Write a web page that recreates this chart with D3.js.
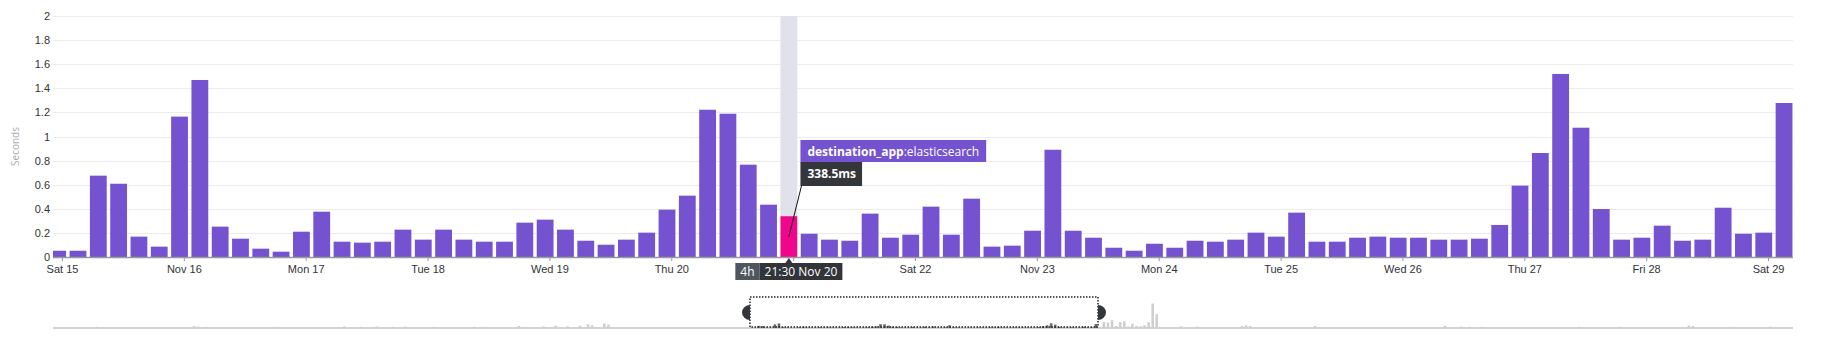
<!DOCTYPE html>
<html>
<head>
<meta charset="utf-8">
<script src="https://cdn.jsdelivr.net/npm/d3@7"></script>
<style>
  html, body { margin: 0; padding: 0; background: #fff; }
  svg { display: block; font-family: "Open Sans", "Noto Sans", sans-serif; }
</style>
</head>
<body>
<svg id="chart" width="1822" height="343"></svg>
<script>
// Average latency (seconds) per 4-hour bucket, destination_app:elasticsearch
const firstBucket = "2014-11-14T21:30";
const bucketHours = 4;
const latency = [
  0.052, 0.052, 0.675, 0.608, 0.169, 0.086,
  1.165, 1.469, 0.252, 0.152, 0.069, 0.044,
  0.210, 0.376, 0.127, 0.119, 0.127, 0.227,
  0.144, 0.227, 0.144, 0.127, 0.127, 0.285,
  0.310, 0.227, 0.135, 0.102, 0.144, 0.202,
  0.393, 0.509, 1.222, 1.189, 0.766, 0.434,
  0.3385, 0.193, 0.144, 0.135, 0.360, 0.160,
  0.185, 0.418, 0.185, 0.484, 0.086, 0.094,
  0.218, 0.890, 0.218, 0.160, 0.077, 0.052,
  0.110, 0.077, 0.135, 0.127, 0.144, 0.202,
  0.169, 0.368, 0.127, 0.127, 0.160, 0.169,
  0.160, 0.160, 0.144, 0.144, 0.152, 0.266,
  0.592, 0.863, 1.519, 1.073, 0.398, 0.144,
  0.160, 0.260, 0.135, 0.144, 0.409, 0.193,
  0.202, 1.278
];

// Hovered bucket and its tooltip
const hoverBucket = "2014-11-20T21:30";
const hoverValueLabel = "338.5ms";
const hoverTimeLabel = "21:30 Nov 20";
const rollupLabel = "4h";
const tagKey = "destination_app";
const tagValue = "elasticsearch";

// Axes
const yTicks = [0, 0.2, 0.4, 0.6, 0.8, 1, 1.2, 1.4, 1.6, 1.8, 2];
const yTickLabels = ["0", "0.2", "0.4", "0.6", "0.8", "1", "1.2", "1.4", "1.6", "1.8", "2"];
const yTitle = "Seconds";
const dayTicks = ["2014-11-15", "2014-11-16", "2014-11-17", "2014-11-18", "2014-11-19",
  "2014-11-20", "2014-11-21", "2014-11-22", "2014-11-23", "2014-11-24", "2014-11-25",
  "2014-11-26", "2014-11-27", "2014-11-28", "2014-11-29"];
const dayTickLabels = ["Sat 15", "Nov 16", "Mon 17", "Tue 18", "Wed 19", "Thu 20", "Fri 21",
  "Sat 22", "Nov 23", "Mon 24", "Tue 25", "Wed 26", "Thu 27", "Fri 28", "Sat 29"];

// Visible window and the overview (navigator) range
const viewDomain = ["2014-11-14T22:14", "2014-11-29T04:55"];
const overviewDomain = ["2014-10-17T07:53", "2014-12-27T17:18"];

// Overview buckets outside the visible window (seconds); unlisted buckets are empty
const overviewEarlier = [
  ["2014-10-19T01:30", 0.40], ["2014-10-19T09:30", 0.30], ["2014-10-23T01:30", 0.60],
  ["2014-10-23T05:30", 0.45], ["2014-10-23T13:30", 0.35], ["2014-10-23T21:30", 0.30],
  ["2014-10-26T09:30", 0.35], ["2014-10-26T13:30", 0.30], ["2014-10-29T05:30", 0.50],
  ["2014-10-29T21:30", 0.40], ["2014-10-30T13:30", 0.50], ["2014-10-31T05:30", 0.40],
  ["2014-10-31T17:30", 0.45], ["2014-11-01T21:30", 0.35], ["2014-11-02T05:30", 0.30],
  ["2014-11-03T13:30", 0.40], ["2014-11-03T21:30", 0.35], ["2014-11-05T09:30", 0.65],
  ["2014-11-06T09:30", 0.50], ["2014-11-06T21:30", 0.70], ["2014-11-07T09:30", 0.55],
  ["2014-11-07T21:30", 0.80], ["2014-11-08T05:30", 1.20], ["2014-11-08T09:30", 0.90],
  ["2014-11-08T21:30", 1.50], ["2014-11-09T01:30", 1.10], ["2014-11-11T13:30", 0.30],
  ["2014-11-13T05:30", 0.30]
];
const overviewLater = [
  ["2014-11-29T09:30", 1.95], ["2014-11-29T13:30", 1.73], ["2014-11-29T17:30", 2.50],
  ["2014-11-29T21:30", 0.65], ["2014-11-30T01:30", 1.95], ["2014-11-30T05:30", 2.18],
  ["2014-11-30T09:30", 0.50], ["2014-11-30T13:30", 1.40], ["2014-11-30T17:30", 0.65],
  ["2014-11-30T21:30", 0.55], ["2014-12-01T01:30", 0.88], ["2014-12-01T05:30", 1.86],
  ["2014-12-01T09:30", 7.90], ["2014-12-01T13:30", 4.46], ["2014-12-01T17:30", 0.33],
  ["2014-12-02T13:30", 0.55], ["2014-12-03T05:30", 0.45], ["2014-12-04T09:30", 0.30],
  ["2014-12-05T01:30", 0.60], ["2014-12-05T05:30", 0.90], ["2014-12-05T09:30", 0.60],
  ["2014-12-07T01:30", 0.25], ["2014-12-08T01:30", 0.65], ["2014-12-09T09:30", 0.30],
  ["2014-12-09T21:30", 0.30], ["2014-12-10T21:30", 0.30], ["2014-12-11T05:30", 0.30],
  ["2014-12-12T05:30", 0.25], ["2014-12-12T17:30", 0.25], ["2014-12-13T09:30", 0.70],
  ["2014-12-14T01:30", 0.45], ["2014-12-14T09:30", 0.40], ["2014-12-14T21:30", 0.35],
  ["2014-12-16T09:30", 0.30], ["2014-12-16T21:30", 0.30], ["2014-12-18T21:30", 0.40],
  ["2014-12-20T13:30", 0.40], ["2014-12-23T09:30", 0.80], ["2014-12-23T13:30", 0.60],
  ["2014-12-24T13:30", 0.30], ["2014-12-25T05:30", 0.35], ["2014-12-25T21:30", 0.30],
  ["2014-12-26T17:30", 0.45]
];

const parse = d3.timeParse("%Y-%m-%dT%H:%M");
const parseDay = d3.timeParse("%Y-%m-%d");
const start = parse(firstBucket);
const buckets = latency.map((v, i) => ({ t: d3.timeHour.offset(start, i * bucketHours), v }));
const hoverT = parse(hoverBucket);

const plot = { left: 53, right: 1793, top: 16, bottom: 257 };
const nav = { left: 53, right: 1793, top: 297, bottom: 328 };

const svg = d3.select("#chart");

const x = d3.scaleTime().domain(viewDomain.map(parse)).range([plot.left, plot.right]);
const y = d3.scaleLinear().domain([0, 2]).range([plot.bottom, plot.top]);

// clip for bars that straddle the window edge
svg.append("defs").append("clipPath").attr("id", "plotClip")
  .append("rect").attr("x", plot.left).attr("y", 0)
  .attr("width", plot.right - plot.left).attr("height", plot.bottom);

// grid
svg.append("g").selectAll("line").data(yTicks).join("line")
  .attr("x1", plot.left).attr("x2", plot.right)
  .attr("y1", d => Math.round(y(d)) + 0.5).attr("y2", d => Math.round(y(d)) + 0.5)
  .attr("stroke", "#ececec").attr("stroke-width", 1);

// y axis
const yAxis = svg.append("g").attr("transform", `translate(${plot.left},0)`)
  .call(d3.axisLeft(y).tickValues(yTicks).tickFormat((d, i) => yTickLabels[i]).tickSize(0).tickPadding(3));
yAxis.select(".domain").remove();
yAxis.selectAll("text").attr("fill", "#333").attr("font-size", 11);

svg.append("text")
  .attr("transform", `translate(19,${(plot.top + plot.bottom) / 2 + 10}) rotate(-90)`)
  .attr("text-anchor", "middle").attr("font-size", 10).attr("fill", "#aaa")
  .text(yTitle);

const barW = t => x(d3.timeHour.offset(t, bucketHours)) - x(t) - 3.5;

// hover band
const hv = buckets.find(b => +b.t === +hoverT).v;
svg.append("rect")
  .attr("x", x(hoverT)).attr("y", plot.top)
  .attr("width", barW(hoverT))
  .attr("height", y(hv) - plot.top)
  .attr("fill", "#e0e1ea");

// bars
svg.append("g").attr("clip-path", "url(#plotClip)")
  .selectAll("rect").data(buckets).join("rect")
  .attr("x", d => x(d.t)).attr("y", d => y(d.v))
  .attr("width", d => barW(d.t)).attr("height", d => y(0) - y(d.v))
  .attr("fill", d => +d.t === +hoverT ? "#f0068c" : "#7452d0");

// x axis
const xAxis = svg.append("g").attr("transform", `translate(0,${plot.bottom})`)
  .call(d3.axisBottom(x).tickValues(dayTicks.map(parseDay))
    .tickFormat((d, i) => dayTickLabels[i]).tickSize(4).tickPadding(4));
xAxis.select(".domain").remove();
xAxis.selectAll(".tick line").attr("stroke", "#999");
xAxis.selectAll("text").attr("fill", "#333").attr("font-size", 11);
svg.append("line")
  .attr("x1", plot.left).attr("x2", plot.right)
  .attr("y1", plot.bottom + 0.5).attr("y2", plot.bottom + 0.5)
  .attr("stroke", "#999").attr("stroke-width", 1.5);

// tooltip
const hx = x(hoverT);
const hw = barW(hoverT);
const hcx = hx + hw / 2;
const tipX = hx + 20, tipY = 140;
const tipFont = 12;

const tagG = svg.append("g");
const tagRect = tagG.append("rect").attr("x", tipX).attr("y", tipY).attr("height", 22).attr("fill", "#7452d0");
const tagText = tagG.append("text").attr("x", tipX + 7).attr("y", tipY + 15.5)
  .attr("font-size", tipFont).attr("fill", "#fff");
tagText.append("tspan").attr("font-weight", 700).text(tagKey);
tagText.append("tspan").text(":" + tagValue);
tagRect.attr("width", tagText.node().getComputedTextLength() + 14);

const valG = svg.append("g");
const valRect = valG.append("rect").attr("x", tipX).attr("y", tipY + 22).attr("height", 24).attr("fill", "#33373c");
const valText = valG.append("text").attr("x", tipX + 7).attr("y", tipY + 38)
  .attr("font-size", tipFont).attr("font-weight", 700).attr("fill", "#fff").text(hoverValueLabel);
valRect.attr("width", valText.node().getComputedTextLength() + 13);

svg.append("line")
  .attr("x1", tipX + 1).attr("y1", tipY + 46)
  .attr("x2", hcx).attr("y2", (y(hv) + y(0)) / 2)
  .attr("stroke", "#111").attr("stroke-width", 1);

// hovered time label on the x axis
const lblY = 263, lblH = 17;
const lblG = svg.append("g");
const rollRect = lblG.append("rect").attr("y", lblY).attr("height", lblH).attr("fill", "#50565d");
const timeRect = lblG.append("rect").attr("y", lblY).attr("height", lblH).attr("fill", "#31353a");
const rollText = lblG.append("text").attr("y", lblY + 13).attr("font-size", tipFont).attr("fill", "#fff").text(rollupLabel);
const timeText = lblG.append("text").attr("y", lblY + 13).attr("font-size", tipFont).attr("fill", "#fff").text(hoverTimeLabel);
const rw = rollText.node().getComputedTextLength() + 10;
const tw = timeText.node().getComputedTextLength() + 10;
const lx = hcx - (rw + tw) / 2;
rollRect.attr("x", lx).attr("width", rw);
timeRect.attr("x", lx + rw).attr("width", tw);
rollText.attr("x", lx + 5);
timeText.attr("x", lx + rw + 5);
lblG.append("path")
  .attr("d", `M${hcx - 3.5},${lblY} L${hcx},${plot.bottom + 1} L${hcx + 3.5},${lblY} Z`)
  .attr("fill", "#31353a");

// day labels sitting under the hover label are hidden while it shows
xAxis.selectAll(".tick text").each(function () {
  const b = this.getBBox();
  const tx = this.parentNode.transform.baseVal.consolidate().matrix.e;
  const l = tx + b.x, r = l + b.width;
  if (r > lx && l < lx + rw + tw) d3.select(this).attr("display", "none");
});

// overview strip
const nx = d3.scaleTime().domain(overviewDomain.map(parse)).range([nav.left, nav.right]);
const ny = d3.scaleLinear().domain([0, 10]).range([nav.bottom, nav.top]);
const navW = t => Math.max(1, nx(d3.timeHour.offset(t, bucketHours)) - nx(t) - 1.5);
const outside = overviewEarlier.concat(overviewLater).map(([t, v]) => ({ t: parse(t), v }));

svg.append("line")
  .attr("x1", nav.left).attr("x2", nav.right)
  .attr("y1", nav.bottom).attr("y2", nav.bottom)
  .attr("stroke", "#c4c4c4").attr("stroke-width", 1.5);

svg.append("g").selectAll("rect").data(outside).join("rect")
  .attr("x", d => nx(d.t)).attr("y", d => ny(d.v))
  .attr("width", d => navW(d.t)).attr("height", d => ny(0) - ny(d.v))
  .attr("fill", "#cfcfcf");

svg.append("g").selectAll("rect").data(buckets).join("rect")
  .attr("x", d => nx(d.t)).attr("y", d => ny(d.v))
  .attr("width", d => navW(d.t)).attr("height", d => ny(0) - ny(d.v))
  .attr("fill", "#666");

// selected window
const [vx0, vx1] = viewDomain.map(parse).map(nx);
svg.append("rect")
  .attr("x", vx0).attr("y", nav.top).attr("width", vx1 - vx0).attr("height", nav.bottom - nav.top - 1)
  .attr("fill", "none").attr("stroke", "#222").attr("stroke-width", 1.5)
  .attr("stroke-dasharray", "1.5,1.5");

const hy = 312.5, hr = 8, hry = 7.5;
svg.append("path")
  .attr("d", `M${vx0},${hy - hry} A${hr},${hry} 0 0 0 ${vx0},${hy + hry} Z`)
  .attr("fill", "#33373c");
svg.append("path")
  .attr("d", `M${vx1},${hy - hry} A${hr},${hry} 0 0 1 ${vx1},${hy + hry} Z`)
  .attr("fill", "#33373c");
</script>
</body>
</html>
